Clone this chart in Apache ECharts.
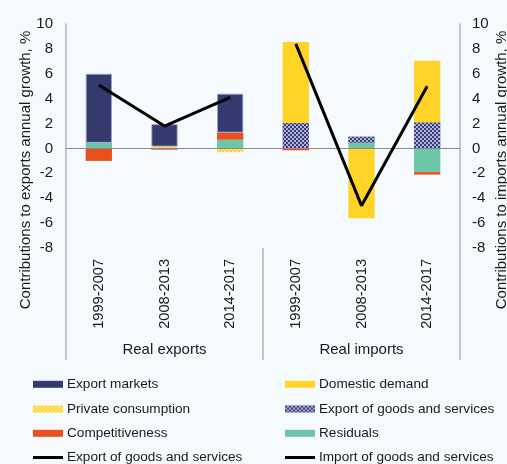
<!DOCTYPE html>
<html>
<head>
<meta charset="utf-8">
<script src="https://cdn.jsdelivr.net/npm/echarts@6/dist/echarts.min.js"></script>
<style>
html,body{margin:0;padding:0;background:#F5FAFE;overflow:hidden;}
#chart{width:507px;height:464px;}
</style>
</head>
<body>
<div id="chart"></div>
<script>
// ---- data ----
const categories = ['1999-2007', '2008-2013', '2014-2017', '1999-2007', '2008-2013', '2014-2017'];
const groups = ['Real exports', 'Real imports'];
const yTicks = { min: -8, max: 10, interval: 2 };

const residuals          = [0.45, null, 0.7, null, 0.45, -1.9];
const privateConsumption = [null, 0.15, -0.3, null, null, null];
const competitiveness    = [-1.0, -0.1, 0.57, -0.15, null, -0.2];
const exportGoods        = [null, null, null, 2.05, 0.5, 2.1];
const exportMarkets      = [5.55, 1.8, 3.13, null, null, null];
const domesticDemand     = [null, null, null, 6.5, -5.6, 4.95];
const exportTotal        = [5.1, 1.8, 4.1, null, null, null];
const importTotal        = [null, null, null, 8.4, -4.6, 5.0];

const leftAxisName  = 'Contributions to exports annual growth, %';
const rightAxisName = 'Contributions to imports annual growth, %';

// legend layout: [name, column, row, isLine]
const legendItems = [
  ['Export markets', 0, 0, false],
  ['Domestic demand', 1, 0, false],
  ['Private consumption', 0, 1, false],
  ['Export of goods and services', 1, 1, false],
  ['Competitiveness', 0, 2, false],
  ['Residuals', 1, 2, false],
  ['Export of goods and services ', 0, 3, true],
  ['Import of goods and services', 1, 3, true]
];

// ---- style ----
const FONT = "'Liberation Sans', Arial, sans-serif";
const TXT = '#1a1a1a';
const AXIS = '#b5b5b5';
const C = {
  navy: '#353a6e',
  yellow: '#FFD426',
  orange: '#E8501C',
  green: '#6CC7A8'
};
const legendColX = [33, 285];
const legendRowY = [384.3, 409, 433.3, 457.5];

const chart = echarts.init(document.getElementById('chart'), null, { renderer: 'canvas', width: 507, height: 464 });

function bar(name, data, itemStyle) {
  return { name, type: 'bar', stack: 'c', data, barWidth: '40%', itemStyle, xAxisIndex: 0, yAxisIndex: 0 };
}

const legends = legendItems.map(([name, col, row, isLine]) => ({
  orient: 'horizontal', left: legendColX[col], top: legendRowY[row] - 7, padding: 0,
  itemWidth: 30, itemHeight: isLine ? 3 : 7, itemGap: 0,
  icon: 'rect',
  itemStyle: isLine ? { color: '#000', borderWidth: 0 } : { borderWidth: 0 },
  textStyle: { fontSize: 13.6, lineHeight: 14, color: TXT, fontFamily: FONT, padding: [0, 0, 0, -1] },
  data: [name]
}));

const option = {
  animation: false,
  backgroundColor: '#F5FAFE',
  textStyle: { fontFamily: FONT },
  grid: [
    { left: 66, right: 47, top: 24, bottom: 216, containLabel: false, outerBoundsMode: 'none' },
    { left: 66, right: 47, top: 248, bottom: 104, containLabel: false, outerBoundsMode: 'none' }
  ],
  xAxis: [
    {
      type: 'category', data: categories, position: 'bottom', gridIndex: 0,
      axisLine: { show: false }, axisTick: { show: false },
      axisLabel: { rotate: 90, margin: 11, fontSize: 14.6, color: TXT, fontFamily: FONT, interval: 0 }
    },
    {
      type: 'category', data: groups, position: 'bottom', gridIndex: 1,
      axisLine: { show: false },
      axisTick: { show: false },
      splitLine: { show: true, interval: 0, lineStyle: { color: AXIS, width: 1.5 } },
      axisLabel: { inside: true, margin: 3, fontSize: 15, color: TXT, fontFamily: FONT }
    }
  ],
  yAxis: [
    {
      type: 'value', position: 'left', gridIndex: 0, min: yTicks.min, max: yTicks.max, interval: yTicks.interval,
      axisLine: { show: true, onZero: false, lineStyle: { color: AXIS, width: 1.5 } },
      axisTick: { show: false }, splitLine: { show: false },
      axisLabel: { margin: 13, fontSize: 15, color: TXT, fontFamily: FONT },
      name: leftAxisName, nameLocation: 'middle', nameGap: 33, nameMoveOverlap: false,
      nameTextStyle: { fontSize: 15, color: TXT, fontFamily: FONT, padding: [0, 68, 0, 0] }
    },
    {
      type: 'value', position: 'right', gridIndex: 0, min: yTicks.min, max: yTicks.max, interval: yTicks.interval,
      axisLine: { show: true, onZero: false, lineStyle: { color: AXIS, width: 1.5 } },
      axisTick: { show: false }, splitLine: { show: false },
      axisLabel: { margin: 12, fontSize: 15, color: TXT, fontFamily: FONT },
      name: rightAxisName, nameLocation: 'middle', nameGap: 34, nameMoveOverlap: false,
      nameTextStyle: { fontSize: 15, color: TXT, fontFamily: FONT, padding: [0, 68, 0, 0] }
    },
    {
      type: 'value', gridIndex: 1, show: false, min: 0, max: 1
    }
  ],
  legend: legends,
  series: [
    Object.assign(bar('Residuals', residuals, { color: C.green }), {
      markLine: {
        silent: true, symbol: 'none', label: { show: false },
        lineStyle: { color: '#8a8a8a', width: 1.2, type: 'solid' },
        data: [{ yAxis: 0 }]
      }
    }),
    bar('Private consumption', privateConsumption, {
      color: '#FFD426',
      decal: { symbol: 'circle', symbolSize: 1, color: 'rgba(255,255,255,0.6)',
               dashArrayX: [[2, 2], [0, 2, 2, 0]], dashArrayY: [2, 0], rotation: 0 }
    }),
    bar('Competitiveness', competitiveness, { color: C.orange }),
    bar('Export of goods and services', exportGoods, {
      color: '#383c82',
      decal: { symbol: 'circle', symbolSize: 1, color: 'rgba(255,255,255,0.8)',
               dashArrayX: [[2, 2], [0, 2, 2, 0]], dashArrayY: [2, 0], rotation: 0 }
    }),
    bar('Export markets', exportMarkets, { color: C.navy, borderColor: 'rgba(150,160,200,0.9)', borderWidth: 1 }),
    bar('Domestic demand', domesticDemand, { color: C.yellow }),
    {
      name: 'Export of goods and services ', type: 'line', data: exportTotal,
      symbol: 'none', connectNulls: false, xAxisIndex: 0, yAxisIndex: 0,
      lineStyle: { color: '#000', width: 3 }, itemStyle: { color: '#000' }, z: 5
    },
    {
      name: 'Import of goods and services', type: 'line', data: importTotal,
      symbol: 'none', connectNulls: false, xAxisIndex: 0, yAxisIndex: 1,
      lineStyle: { color: '#000', width: 3 }, itemStyle: { color: '#000' }, z: 5
    }
  ]
};

chart.setOption(option);
</script>
</body>
</html>
